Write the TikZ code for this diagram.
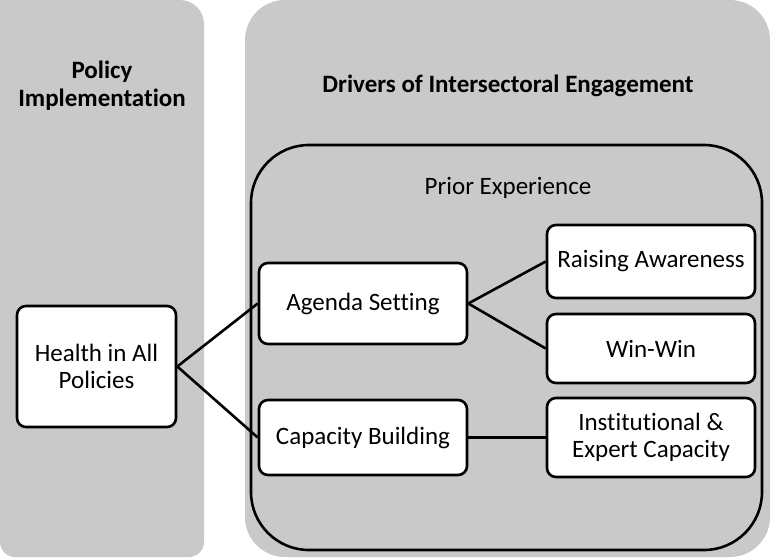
\documentclass[tikz,border=0pt]{standalone}
\usepackage{fontspec}
\setmainfont{Carlito}[RawFeature=-liga]
\definecolor{panelgray}{RGB}{201,201,201}
\tikzset{
  panel/.style={fill=panelgray},
  frame/.style={draw=black, line width=2.6pt},
  box/.style={draw=black, fill=white, line width=2.6pt, rounded corners=9pt, align=center, inner sep=0pt, font=\fontsize{25}{27}\selectfont},
  title/.style={align=center, inner sep=0pt, font=\fontsize{25}{28}\selectfont\bfseries},
  label/.style={inner sep=0pt, font=\fontsize{25}{27}\selectfont},
  link/.style={draw=black, line width=2.6pt}
}
\begin{document}
\begin{tikzpicture}[x=1pt,y=-1pt]
\useasboundingbox (0,0) rectangle (771,557);
% left panel
\fill[panel] (0,0) [rounded corners=24pt] -- (204,0) -- (204,200) [rounded corners=15pt] -- (204,557) -- (0,557) [sharp corners] -- (0,200) -- cycle;
% right panel
\fill[panel, rounded corners=40pt] (245,0) rectangle (770,557);
% inner frame
\draw[frame, rounded corners=58pt] (251,145) rectangle (762,550);
% titles
\node[title] (t1) at (102,86) {Policy\\Implementation};
\node[title, anchor=base] (t2) at (508,92) {Drivers of Intersectoral Engagement};
\node[label, anchor=base] (t3) at (508,194) {Prior Experience};
% boxes
\node[box, minimum width=159pt, minimum height=121pt] (hiap) at (96.5,366.5) {Health in All\\Policies};
\node[box, minimum width=208pt, minimum height=81pt] (agenda) at (363,303.5) {Agenda Setting};
\node[box, minimum width=208pt, minimum height=75pt] (capacity) at (363,437.5) {Capacity Building};
\node[box, minimum width=208pt, minimum height=73pt] (raising) at (651,261.5) {Raising Awareness};
\node[box, minimum width=208pt, minimum height=69pt] (winwin) at (651,348.5) {Win-Win};
\node[box, minimum width=208pt, minimum height=79pt] (inst) at (651,437.5) {Institutional \&\\Expert Capacity};
% links
\draw[link] (hiap.east) -- (agenda.west);
\draw[link] (hiap.east) -- (capacity.west);
\draw[link] (agenda.east) -- (raising.west);
\draw[link] (agenda.east) -- (winwin.west);
\draw[link] (capacity.east) -- (inst.west);
\end{tikzpicture}
\end{document}
